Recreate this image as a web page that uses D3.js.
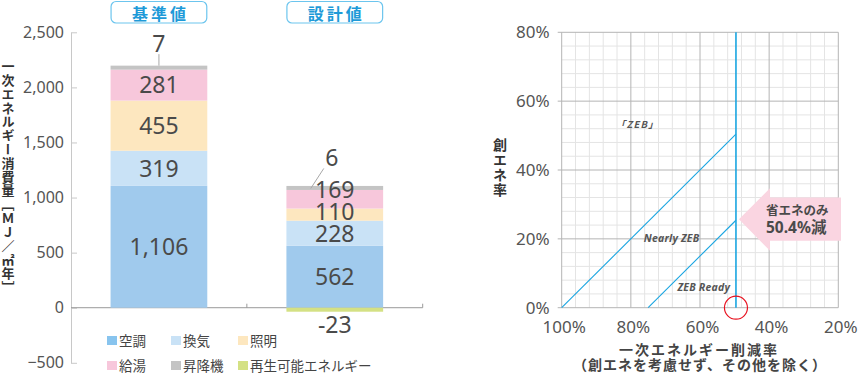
<!DOCTYPE html>
<html><head><meta charset="utf-8">
<script src="https://cdn.jsdelivr.net/npm/d3@7"></script>
<style>
html,body{margin:0;padding:0;background:#fff;}
svg{display:block;}
.num{font-family:"Noto Sans","Noto Sans CJK JP",sans-serif;}
.jp{font-family:"Noto Sans CJK JP","Noto Sans",sans-serif;}
.vert{writing-mode:vertical-rl;text-orientation:upright;}
</style></head><body>
<svg id="c" width="860" height="373"></svg>
<script>
// ---------- data ----------
const categories = ["基準値", "設計値"];
const seriesNames = ["空調", "換気", "照明", "給湯", "昇降機", "再生可能エネルギー"];
const kucho = [1106, 562];
const kanki = [319, 228];
const shomei = [455, 110];
const kyuto = [281, 169];
const shokoki = [7, 6];
const saisei = [0, -23];
const barTicks = [-500, 0, 500, 1000, 1500, 2000, 2500];
const seriesColors = ["#a0caed", "#c9e2f6", "#fde7bf", "#f7c7db", "#c4c4c4", "#d4e184"];

const xPctTicks = [100, 80, 60, 40, 20];
const yPctTicks = [0, 20, 40, 60, 80];
const zebLine = [[100, 0], [49.6, 50.4]];
const readyLine = [[75, 0], [49.6, 25.4]];
const designLine = [[49.6, 0], [49.6, 80]];
const designReductionLabel = ["省エネのみ", "50.4%減"];
const zoneLabels = ["「ZEB」", "Nearly ZEB", "ZEB Ready"];

// ---------- left chart ----------
const svg = d3.select("#c");
const TXT = "#4a4a4a";
const yL = d3.scaleLinear().domain([-500, 2500]).range([362.8, 32.3]);
const xL = d3.scaleBand().domain(categories).range([71, 422.7]).paddingInner(0.45).paddingOuter(0.225);

const rows = categories.map((c, i) => {
  const r = {cat: c};
  [kucho, kanki, shomei, kyuto, shokoki, saisei].forEach((arr, k) => r[seriesNames[k]] = arr[i]);
  return r;
});
const stacked = d3.stack().keys(seriesNames).offset(d3.stackOffsetDiverging)(rows);

// y axis
const gY = svg.append("g").attr("transform", "translate(71,0)")
  .call(d3.axisLeft(yL).tickValues(barTicks).tickSizeInner(-6).tickSizeOuter(0).tickPadding(7).tickFormat(d3.format(",")));
gY.select(".domain").attr("stroke", "#c8c8c8");
gY.selectAll(".tick line").attr("stroke", "#c8c8c8");
gY.selectAll(".tick text").attr("class", "num").attr("font-size", 16).attr("fill", "#555");

// zero line
const r0 = xL.range()[0], r1 = xL.range()[1];
svg.append("line").attr("x1", r0).attr("x2", r1).attr("y1", yL(0)).attr("y2", yL(0)).attr("stroke", "#9a9a9a");
categories.forEach((c, i) => {
  const bx = xL(c) + xL.bandwidth() + xL.step() * xL.paddingInner() / 2;
  svg.append("line").attr("x1", bx).attr("x2", bx).attr("y1", yL(0)).attr("y2", yL(0) - 4).attr("stroke", "#9a9a9a");
});

// bars
const MINH = 4;
const segs = [];
stacked.forEach((s, k) => {
  s.forEach((d, i) => {
    const val = rows[i][seriesNames[k]];
    if (!val) return;
    const a = yL(d[0]), b = yL(d[1]);
    let top = Math.min(a, b), bot = Math.max(a, b);
    if (val > 0 && bot - top < MINH) top = bot - MINH;
    if (val < 0 && bot - top < MINH) bot = top + MINH;
    segs.push({k, i, val, top, bot});
  });
});
svg.append("g").selectAll("rect").data(segs).join("rect")
  .attr("x", d => xL(categories[d.i])).attr("width", xL.bandwidth())
  .attr("y", d => d.top).attr("height", d => d.bot - d.top)
  .attr("fill", d => seriesColors[d.k]);

// labels
const LBL = 22;
categories.forEach((c, i) => {
  const cx = xL(c) + xL.bandwidth() / 2;
  const pos = segs.filter(d => d.i === i && d.val > 0 && d.k !== 4).sort((a, b) => a.k - b.k);
  let prev = Infinity;
  pos.forEach(d => {
    let cy = (d.top + d.bot) / 2;
    if (prev - cy < LBL) cy = prev - LBL;
    prev = cy;
    svg.append("text").attr("class", "num").attr("x", cx).attr("y", cy).attr("dy", "0.36em")
      .attr("text-anchor", "middle").attr("font-size", 23).attr("fill", TXT)
      .text(d3.format(",")(d.val));
  });
  // small top segment (昇降機) with leader
  const g = segs.find(d => d.i === i && d.k === 4);
  if (g) {
    const first = i === 0;
    const ly = g.top - (first ? 14 : 20);
    svg.append("line").attr("x1", cx + (first ? 0 : -11)).attr("y1", ly + 2.5)
      .attr("x2", cx + (first ? 0 : -24)).attr("y2", g.top + (first ? 0 : 2.5))
      .attr("stroke", "#a8a8a8").attr("stroke-width", 1);
    svg.append("text").attr("class", "num").attr("x", cx + (first ? 0 : -3)).attr("y", ly)
      .attr("text-anchor", "middle").attr("font-size", 23).attr("fill", TXT).text(g.val);
  }
  // negative
  segs.filter(d => d.i === i && d.val < 0).forEach(d => {
    svg.append("text").attr("class", "num").attr("x", cx).attr("y", d.bot + 21)
      .attr("text-anchor", "middle").attr("font-size", 23).attr("fill", TXT).text(d.val);
  });
});

// header boxes
categories.forEach(c => {
  svg.append("rect").attr("x", xL(c) + 0.5).attr("y", 1.5).attr("width", xL.bandwidth() - 1).attr("height", 21.5)
    .attr("rx", 5).attr("fill", "#fff").attr("stroke", "#6cc5ee").attr("stroke-width", 1.2);
  svg.append("text").attr("class", "jp").attr("x", xL(c) + xL.bandwidth() / 2 + 1.5).attr("y", 12.5)
    .attr("dominant-baseline", "central").attr("text-anchor", "middle")
    .attr("font-size", 16).attr("font-weight", 700).attr("letter-spacing", 3).attr("fill", "#1e9ad8").text(c);
});

// y title
svg.append("text").attr("class", "jp vert").attr("x", 8).attr("y", 177)
  .attr("text-anchor", "middle").attr("font-size", 13).attr("font-weight", 700)
  .attr("letter-spacing", 0.8).attr("fill", "#333").text("一次エネルギー消費量［ＭＪ／㎡年］");

// legend
const legX = [107, 171, 238], legY = [336, 361];
seriesNames.forEach((n, k) => {
  const x = legX[k % 3], y = legY[Math.floor(k / 3)];
  svg.append("rect").attr("x", x).attr("y", y).attr("width", 10).attr("height", 9)
    .attr("fill", k === 0 ? "#88c4ee" : seriesColors[k]);
  svg.append("text").attr("class", "jp").attr("x", x + 12).attr("y", y + 9.5)
    .attr("font-size", 13.5).attr("fill", "#444").text(n);
});

// ---------- right chart ----------
const xR = d3.scaleLinear().domain([100, 20]).range([561.7, 838.3]);
const yR = d3.scaleLinear().domain([0, 80]).range([307.7, 32.3]);
const gR = svg.append("g");
const minorX = d3.range(20, 101, 4), minorY = d3.range(0, 81, 4);
gR.selectAll(".mx").data(minorX.filter(v => v % 20 !== 0)).join("line")
  .attr("x1", d => xR(d)).attr("x2", d => xR(d)).attr("y1", yR(0)).attr("y2", yR(80)).attr("stroke", "#e4e4e4");
gR.selectAll(".my").data(minorY.filter(v => v % 20 !== 0)).join("line")
  .attr("x1", xR(100)).attr("x2", xR(20)).attr("y1", d => yR(d)).attr("y2", d => yR(d)).attr("stroke", "#e4e4e4");
gR.selectAll(".Mx").data(xPctTicks).join("line")
  .attr("x1", d => xR(d)).attr("x2", d => xR(d)).attr("y1", yR(0)).attr("y2", yR(80)).attr("stroke", "#b4b4b4");
gR.selectAll(".My").data(yPctTicks).join("line")
  .attr("x1", xR(100) - 4).attr("x2", xR(20)).attr("y1", d => yR(d)).attr("y2", d => yR(d)).attr("stroke", "#b4b4b4");

// axes labels
gR.selectAll(".yl").data(yPctTicks).join("text").attr("class", "num")
  .attr("x", xR(100) - 12).attr("y", d => yR(d)).attr("dy", "0.36em").attr("text-anchor", "end")
  .attr("font-size", 17).attr("fill", "#555").text(d => d + "%");
gR.selectAll(".xl").data(xPctTicks).join("text").attr("class", "num")
  .attr("x", d => xR(d) + 2.5).attr("y", yR(0) + 25.5).attr("text-anchor", "middle")
  .attr("font-size", 17).attr("fill", "#555").text(d => d + "%");

// lines
const lineR = d3.line().x(d => xR(d[0])).y(d => yR(d[1]));
[zebLine, readyLine].forEach(l => gR.append("path").attr("d", lineR(l)).attr("fill", "none")
  .attr("stroke", "#1aa5e1").attr("stroke-width", 1.1));
gR.append("path").attr("d", lineR(designLine)).attr("fill", "none").attr("stroke", "#1aa5e1").attr("stroke-width", 1.6);

// zone labels
const zl = [[78.1, 52.2], [68.2, 19.1], [58.9, 4.85]];
zoneLabels.forEach((t, i) => {
  gR.append("text").attr("class", i === 0 ? "jp" : "num").attr("x", xR(zl[i][0])).attr("y", yR(zl[i][1]))
    .attr("text-anchor", "middle").attr("font-size", i === 0 ? 9.5 : 10.5).attr("font-style", "italic")
    .attr("font-weight", 700).attr("letter-spacing", i === 0 ? 1.2 : 0.2).attr("fill", "#555").text(t);
});

// red circle
gR.append("circle").attr("cx", xR(designLine[0][0])).attr("cy", yR(0)).attr("r", 11.5)
  .attr("fill", "none").attr("stroke", "#e8101e").attr("stroke-width", 1.2);

// arrow
const tx = xR(readyLine[1][0]) + 3, ty = yR(readyLine[1][1]) - 1;
const arrowPts = [[tx, ty], [tx + 31, ty - 31], [tx + 31, ty - 21.7], [841, ty - 21.7],
  [841, ty + 21.6], [tx + 31, ty + 21.6], [tx + 31, ty + 31.6]];
gR.append("path").attr("d", d3.line()(arrowPts) + "Z").attr("fill", "#fad5e1");
gR.append("text").attr("class", "jp").attr("x", tx + 27).attr("y", ty - 4)
  .attr("font-size", 12.5).attr("font-weight", 700).attr("fill", TXT).text(designReductionLabel[0]);
gR.append("text").attr("class", "num").attr("x", tx + 27).attr("y", ty + 13.5)
  .attr("font-size", 15.5).attr("font-weight", 700).attr("fill", TXT)
  .text(designReductionLabel[1].replace("減", "")).append("tspan").attr("class", "jp").text("減");

// titles
gR.append("text").attr("class", "jp vert").attr("x", 500).attr("y", 168)
  .attr("text-anchor", "middle").attr("font-size", 14).attr("font-weight", 700)
  .attr("letter-spacing", 1).attr("fill", "#333").text("創エネ率");
gR.append("text").attr("class", "jp").attr("x", 699).attr("y", 355)
  .attr("text-anchor", "middle").attr("font-size", 14).attr("font-weight", 700)
  .attr("letter-spacing", 2).attr("fill", "#444").text("一次エネルギー削減率");
gR.append("text").attr("class", "jp").attr("x", 700).attr("y", 369.5)
  .attr("text-anchor", "middle").attr("font-size", 14).attr("font-weight", 700)
  .attr("letter-spacing", 1).attr("fill", "#444").text("（創エネを考慮せず、その他を除く）");
</script>
</body></html>
